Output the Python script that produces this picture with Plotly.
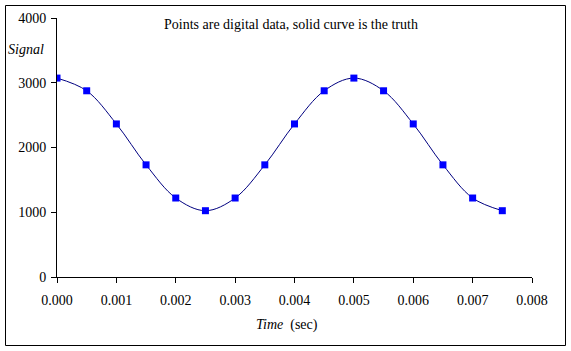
import plotly.graph_objects as go

time_s = [0.0, 0.0005, 0.001, 0.0015, 0.002, 0.0025, 0.003, 0.0035,
          0.004, 0.0045, 0.005, 0.0055, 0.006, 0.0065, 0.007, 0.0075]
signal = [3072, 2876, 2364, 1732, 1220, 1024, 1220, 1732,
          2364, 2876, 3072, 2876, 2364, 1732, 1220, 1024]
x_ticks = [0.000, 0.001, 0.002, 0.003, 0.004, 0.005, 0.006, 0.007, 0.008]
x_tick_labels = ["%.3f" % v for v in x_ticks]
y_ticks = [0, 1000, 2000, 3000, 4000]

W, H = 571, 351
L, R, T, B = 57, 39, 18, 74
pw, ph = W - L - R, H - T - B

def px(x):
    return (x - L) / pw

def py(y):
    return (H - B - y) / ph

FONT = "'Times New Roman', 'Liberation Serif', serif"
FS = 14

fig = go.Figure()
fig.add_trace(go.Scatter(x=time_s, y=signal, mode="lines",
                         line=dict(color="#000080", width=1, shape="spline", smoothing=1.0),
                         hoverinfo="skip", showlegend=False))
fig.add_trace(go.Scatter(x=time_s, y=signal, mode="markers",
                         marker=dict(symbol="square", size=7, color="#0000FF"),
                         showlegend=False))

fig.update_layout(
    width=W, height=H,
    margin=dict(l=L, r=R, t=T, b=B),
    paper_bgcolor="white", plot_bgcolor="white",
    font=dict(family=FONT, size=FS, color="black"),
    xaxis=dict(range=[0, 0.008], tickvals=x_ticks, ticktext=x_tick_labels,
               showgrid=False, zeroline=False, showline=True, linecolor="black",
               linewidth=1, ticks="outside", ticklen=5, tickcolor="black",
               ticklabelstandoff=5,
               tickfont=dict(family=FONT, size=FS)),
    yaxis=dict(range=[0, 4000], tickvals=y_ticks,
               showgrid=False, zeroline=False, showline=True, linecolor="black",
               linewidth=1, ticks="outside", ticklen=5, tickcolor="black",
               ticklabelstandoff=2,
               tickfont=dict(family=FONT, size=FS)),
    shapes=[dict(type="rect", xref="paper", yref="paper",
                 x0=px(5.5), x1=px(565.5), y0=py(345.5), y1=py(5.5),
                 line=dict(color="black", width=1), fillcolor="rgba(0,0,0,0)",
                 layer="below")],
    annotations=[
        dict(text="Points are digital data, solid curve is the truth",
             xref="paper", yref="paper", x=px(291), y=py(25),
             xanchor="center", yanchor="middle",
             showarrow=False, font=dict(family=FONT, size=FS)),
        dict(text="<i>Signal</i>", xref="paper", yref="paper", x=px(26), y=py(50),
             xanchor="center", yanchor="middle",
             showarrow=False, font=dict(family=FONT, size=FS)),
        dict(text="<i>Time</i>  (sec)", xref="paper", yref="paper", x=px(287), y=py(325),
             xanchor="center", yanchor="middle",
             showarrow=False, font=dict(family=FONT, size=FS)),
    ],
)

fig.write_html("out.html")
